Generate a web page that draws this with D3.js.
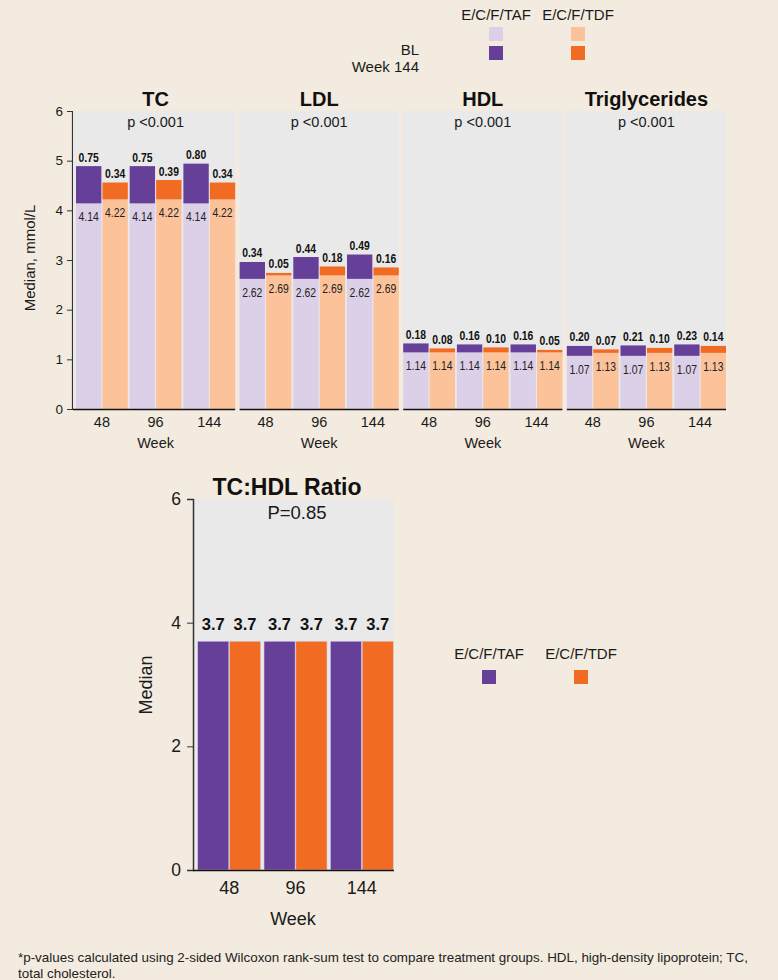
<!DOCTYPE html>
<html>
<head>
<meta charset="utf-8">
<script src="https://cdn.jsdelivr.net/npm/d3@7"></script>
<style>
  html, body { margin: 0; padding: 0; background: #f3ebdf; }
  svg { display: block; font-family: "Liberation Sans", Arial, sans-serif; }
</style>
</head>
<body>
<svg id="chart" width="778" height="980"></svg>
<script>
// ---- data ----
const weeks = ["48", "96", "144"];
const arms = ["E/C/F/TAF", "E/C/F/TDF"];
const panels = ["TC", "LDL", "HDL", "Triglycerides"];
const pValues = ["p <0.001", "p <0.001", "p <0.001", "p <0.001"];
// baseline medians (mmol/L) per panel: [TAF, TDF]
const baselineTAF = [4.14, 2.62, 1.14, 1.07];
const baselineTDF = [4.22, 2.69, 1.14, 1.13];
// median change from baseline at weeks 48, 96, 144
const changeTAF = [
  [0.75, 0.75, 0.80],
  [0.34, 0.44, 0.49],
  [0.18, 0.16, 0.16],
  [0.20, 0.21, 0.23]
];
const changeTDF = [
  [0.34, 0.39, 0.34],
  [0.05, 0.18, 0.16],
  [0.08, 0.10, 0.05],
  [0.07, 0.10, 0.14]
];
const yTicksTop = [0, 1, 2, 3, 4, 5, 6];
// TC:HDL ratio medians at weeks 48, 96, 144
const ratioTAF = [3.7, 3.7, 3.7];
const ratioTDF = [3.7, 3.7, 3.7];
const ratioP = "P=0.85";
const yTicksRatio = [0, 2, 4, 6];

const colors = {
  tafBL: "#dcd0e8", tafChg: "#663f99",
  tdfBL: "#fcc39a", tdfChg: "#f26b22",
  panel: "#e9e9e9", bg: "#f3ebdf", text: "#1a1a1a"
};

const svg = d3.select("#chart");

// condensed value label (narrow face drawn by horizontal squeeze)
function narrowLabel(g, x, y, txt, bold) {
  g.append("text")
    .attr("transform", `translate(${x},${y}) scale(0.8,1)`)
    .attr("text-anchor", "middle").attr("font-size", 13)
    .attr("font-weight", bold ? "bold" : "normal")
    .attr("fill", bold ? "#111" : "#222")
    .text(txt);
}

// ---- top legend ----
const legTop = svg.append("g");
[["E/C/F/TAF", 496, colors.tafBL, colors.tafChg], ["E/C/F/TDF", 578, colors.tdfBL, colors.tdfChg]]
  .forEach(([name, cx, c1, c2]) => {
    legTop.append("text").attr("x", cx).attr("y", 20).attr("text-anchor", "middle")
      .attr("font-size", 15).attr("fill", colors.text).text(name);
    legTop.append("rect").attr("x", cx - 7).attr("y", 27).attr("width", 14).attr("height", 14).attr("fill", c1);
    legTop.append("rect").attr("x", cx - 7).attr("y", 46).attr("width", 14).attr("height", 14).attr("fill", c2);
  });
legTop.append("text").attr("x", 419).attr("y", 55).attr("text-anchor", "end")
  .attr("font-size", 15).attr("fill", colors.text).text("BL");
legTop.append("text").attr("x", 419).attr("y", 72).attr("text-anchor", "end")
  .attr("font-size", 15).attr("fill", colors.text).text("Week 144");

// ---- top panels ----
const yTop = d3.scaleLinear().domain([0, 6]).range([409, 111]);
const xPanel = d3.scaleBand().domain(panels).range([76, 726]).paddingInner(0.027);

// y axis
const yAxisTop = svg.append("g").attr("transform", "translate(72,0)")
  .call(d3.axisLeft(yTop).tickValues(yTicksTop).tickFormat(d3.format("d")).tickSize(5).tickPadding(4));
yAxisTop.select(".domain").attr("stroke", "#333").attr("stroke-width", 1.2);
yAxisTop.selectAll(".tick line").attr("stroke", "#333");
yAxisTop.selectAll(".tick text").attr("font-size", 13.5).attr("fill", colors.text)
  .attr("font-family", "Liberation Sans, Arial, sans-serif");

svg.append("text").attr("transform", "translate(35,258) rotate(-90)")
  .attr("text-anchor", "middle").attr("font-size", 15).attr("fill", colors.text)
  .text("Median, mmol/L");

panels.forEach((name, i) => {
  const x0 = xPanel(name);
  const w = xPanel.bandwidth();
  const g = svg.append("g");
  const bgLeft = i === 0 ? 73 : x0;
  g.append("rect").attr("x", bgLeft).attr("y", 111).attr("width", x0 + w - bgLeft)
    .attr("height", 409 - 111).attr("fill", colors.panel);

  const xWeek = d3.scaleBand().domain(weeks).range([x0, x0 + w]).paddingInner(0.035);
  const xArm = d3.scaleBand().domain(arms).range([0, xWeek.bandwidth()]).paddingInner(0.04);

  weeks.forEach((wk, j) => {
    const series = [
      { arm: arms[0], bl: baselineTAF[i], chg: changeTAF[i][j], cBL: colors.tafBL, cChg: colors.tafChg },
      { arm: arms[1], bl: baselineTDF[i], chg: changeTDF[i][j], cBL: colors.tdfBL, cChg: colors.tdfChg }
    ];
    series.forEach(s => {
      const bx = xWeek(wk) + xArm(s.arm);
      const bw = xArm.bandwidth();
      g.append("rect").attr("x", bx).attr("y", yTop(s.bl)).attr("width", bw)
        .attr("height", yTop(0) - yTop(s.bl)).attr("fill", s.cBL);
      g.append("rect").attr("x", bx).attr("y", yTop(s.bl + s.chg)).attr("width", bw)
        .attr("height", yTop(s.bl) - yTop(s.bl + s.chg)).attr("fill", s.cChg);
      narrowLabel(g, bx + bw / 2, yTop(s.bl) + 18, s.bl.toFixed(2), false);
      narrowLabel(g, bx + bw / 2, yTop(s.bl + s.chg) - 4.5, s.chg.toFixed(2), true);
    });
    g.append("text").attr("x", xWeek(wk) + xWeek.bandwidth() / 2).attr("y", 427)
      .attr("text-anchor", "middle").attr("font-size", 14.5).attr("fill", colors.text).text(wk);
  });

  g.append("line").attr("x1", bgLeft).attr("x2", x0 + w).attr("y1", 409.5).attr("y2", 409.5)
    .attr("stroke", "#111").attr("stroke-width", 1.5);
  g.append("text").attr("x", x0 + w / 2).attr("y", 106).attr("text-anchor", "middle")
    .attr("font-size", 20).attr("font-weight", "bold").attr("fill", "#111").text(name);
  g.append("text").attr("x", x0 + w / 2).attr("y", 127).attr("text-anchor", "middle")
    .attr("font-size", 14.5).attr("fill", colors.text).text(pValues[i]);
  g.append("text").attr("x", x0 + w / 2).attr("y", 448).attr("text-anchor", "middle")
    .attr("font-size", 14.5).attr("fill", colors.text).text("Week");
});

// ---- TC:HDL ratio chart ----
const yR = d3.scaleLinear().domain([0, 6]).range([870, 499]);
const xR = d3.scaleBand().domain(weeks).range([197, 394]).paddingInner(0.05).paddingOuter(0.01);
const xRArm = d3.scaleBand().domain(arms).range([0, xR.bandwidth()]).paddingInner(0.02);

const gR = svg.append("g");
gR.append("rect").attr("x", 194).attr("y", 499).attr("width", 394 - 194).attr("height", 870 - 499)
  .attr("fill", colors.panel);

weeks.forEach((wk, j) => {
  [[arms[0], ratioTAF[j], colors.tafChg], [arms[1], ratioTDF[j], colors.tdfChg]].forEach(([arm, v, c]) => {
    const bx = xR(wk) + xRArm(arm);
    const bw = xRArm.bandwidth();
    gR.append("rect").attr("x", bx).attr("y", yR(v)).attr("width", bw).attr("height", yR(0) - yR(v))
      .attr("fill", c).attr("stroke", "#d8cde6").attr("stroke-width", 0.6);
    gR.append("text").attr("x", bx + bw / 2).attr("y", yR(v) - 11).attr("text-anchor", "middle")
      .attr("font-size", 16.5).attr("font-weight", "bold").attr("fill", "#111").text(v.toFixed(1));
  });
  gR.append("text").attr("x", xR(wk) + xR.bandwidth() / 2).attr("y", 894).attr("text-anchor", "middle")
    .attr("font-size", 18).attr("fill", colors.text).text(wk);
});

const yAxisR = gR.append("g").attr("transform", "translate(193,0)")
  .call(d3.axisLeft(yR).tickValues(yTicksRatio).tickFormat(d3.format("d")).tickSize(6).tickPadding(6));
yAxisR.select(".domain").attr("stroke", "#333").attr("stroke-width", 1.5);
yAxisR.selectAll(".tick line").attr("stroke", "#333");
yAxisR.selectAll(".tick text").attr("font-size", 17.5).attr("fill", colors.text)
  .attr("font-family", "Liberation Sans, Arial, sans-serif");

gR.append("line").attr("x1", 193).attr("x2", 394).attr("y1", 870.5).attr("y2", 870.5)
  .attr("stroke", "#111").attr("stroke-width", 1.5);
gR.append("text").attr("x", 287).attr("y", 495).attr("text-anchor", "middle")
  .attr("font-size", 23).attr("font-weight", "bold").attr("fill", "#111").text("TC:HDL Ratio");
gR.append("text").attr("x", 297).attr("y", 519).attr("text-anchor", "middle")
  .attr("font-size", 18.5).attr("fill", colors.text).text(ratioP);
gR.append("text").attr("x", 293).attr("y", 925).attr("text-anchor", "middle")
  .attr("font-size", 18).attr("fill", colors.text).text("Week");
gR.append("text").attr("transform", "translate(152,685) rotate(-90)").attr("text-anchor", "middle")
  .attr("font-size", 18).attr("fill", colors.text).text("Median");

// bottom legend
[["E/C/F/TAF", 489, colors.tafChg], ["E/C/F/TDF", 581, colors.tdfChg]].forEach(([name, cx, c]) => {
  svg.append("text").attr("x", cx).attr("y", 659).attr("text-anchor", "middle")
    .attr("font-size", 15).attr("fill", colors.text).text(name);
  svg.append("rect").attr("x", cx - 7).attr("y", 670).attr("width", 14).attr("height", 14).attr("fill", c);
});

// footnote
const foot = svg.append("text").attr("font-size", 13.4).attr("fill", "#222");
foot.append("tspan").attr("x", 18).attr("y", 962)
  .text("*p-values calculated using 2-sided Wilcoxon rank-sum test to compare treatment groups. HDL, high-density lipoprotein; TC,");
foot.append("tspan").attr("x", 18).attr("y", 978).text("total cholesterol.");
</script>
</body>
</html>
